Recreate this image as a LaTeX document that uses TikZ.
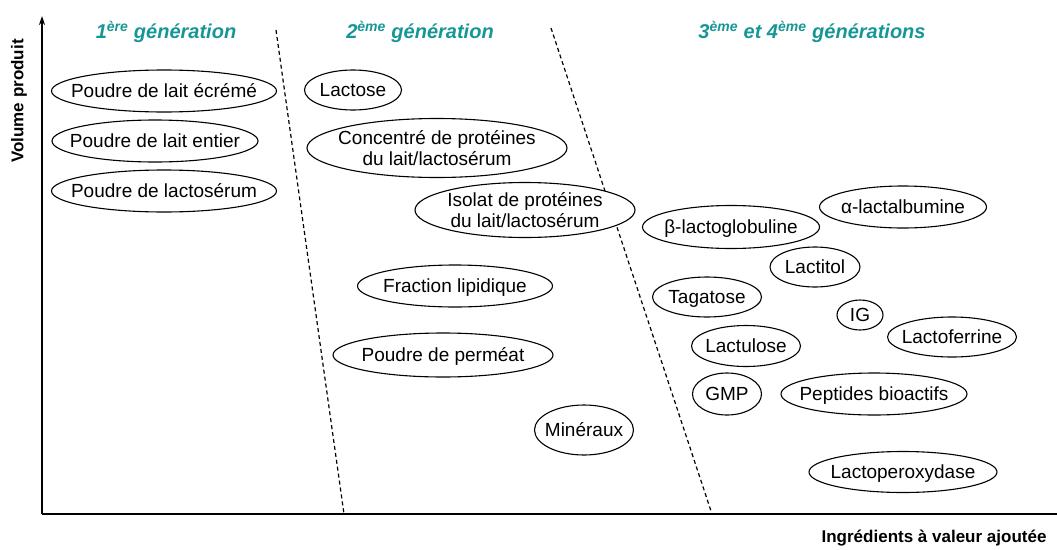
\documentclass[tikz,border=0pt]{standalone}
\usepackage{fontspec}
\setmainfont{Liberation Sans}
\usepackage{tikz}
\usetikzlibrary{arrows.meta,positioning}
\definecolor{gencol}{RGB}{22, 150, 150}
\tikzstyle{ingr} = [font=\fontsize{19}{21}\selectfont, align=center, inner sep=0pt, text height=13.6pt, text depth=0pt]
\tikzstyle{ingrtwo} = [font=\fontsize{19}{21}\selectfont, align=center, inner sep=0pt]
\tikzstyle{ring} = [draw, fill=white, line width=1.1pt]
\tikzstyle{gen} = [font=\fontsize{20}{24}\selectfont\bfseries\itshape, text=gencol]
\tikzstyle{axlabel} = [font=\fontsize{17}{20}\selectfont\bfseries]
\tikzstyle{bound} = [draw, line width=1.2pt, dash pattern=on 4pt off 3pt]
\tikzstyle{axis} = [draw, line width=1.8pt]

\begin{document}
\begin{tikzpicture}[x=1pt, y=-1pt]
\useasboundingbox (0,0) rectangle (1057,549);

% axes =============================
\coordinate (origin) at (42,514);
\coordinate (ytop) at (42,16);
\coordinate (xend) at (1057,514);
\path[axis, -{Stealth[length=9pt,width=6pt]}] (origin) -- (ytop);
\path[axis] (origin) -- (xend);
\node[axlabel, rotate=90] (ylab) at (19,101) {Volume produit};
\node[axlabel, anchor=east] (xlab) at (1050,538) {Ingrédients à valeur ajoutée};

% generations
\node[gen] (gen1) at (166,32) {1\textsuperscript{ère} génération};
\node[gen] (gen2) at (420,32) {2\textsuperscript{ème} génération};
\node[gen] (gen34) at (812,32) {3\textsuperscript{ème} et 4\textsuperscript{ème} générations};

% boundaries
\coordinate (d1top) at (276,30);
\coordinate (d1bot) at (344,514);
\coordinate (d2top) at (551,28);
\coordinate (d2bot) at (711,511);
\path[bound] (d1top) -- (d1bot);
\path[bound] (d2top) -- (d2bot);

% 1st generation
\draw[ring] (164,91) node[ingr] (skim) {Poudre de lait écrémé} ellipse (112.5pt and 21pt);
\draw[ring] (155,141) node[ingr] (whole) {Poudre de lait entier} ellipse (103pt and 21pt);
\draw[ring] (164,191) node[ingr] (whey) {Poudre de lactosérum} ellipse (112.5pt and 21pt);

% 2nd generation
\draw[ring] (353,90) node[ingr] (lactose) {Lactose} ellipse (48.5pt and 20pt);
\draw[ring] (437,148) node[ingrtwo] (wpc) {Concentré de protéines\\du lait/lactosérum} ellipse (130pt and 29.5pt);
\draw[ring] (525,210) node[ingrtwo] (wpi) {Isolat de protéines\\du lait/lactosérum} ellipse (110pt and 27.5pt);
\draw[ring] (455,286) node[ingr] (lipid) {Fraction lipidique} ellipse (97.5pt and 21pt);
\draw[ring] (443,355) node[ingr] (permeate) {Poudre de perméat} ellipse (110pt and 22pt);
\draw[ring] (584,430) node[ingr] (minerals) {Minéraux} ellipse (49.5pt and 25pt);

% 3rd and 4th generations
\draw[ring] (731,227) node[ingr] (blg) {β-lactoglobuline} ellipse (88.5pt and 21.5pt);
\draw[ring] (903,207) node[ingr] (ala) {α-lactalbumine} ellipse (83.5pt and 21pt);
\draw[ring] (815,267) node[ingr] (lactitol) {Lactitol} ellipse (45pt and 20pt);
\draw[ring] (707,297) node[ingr] (tagatose) {Tagatose} ellipse (54.5pt and 20pt);
\draw[ring] (860,315) node[ingr] (ig) {IG} ellipse (23pt and 15pt);
\draw[ring] (952,337) node[ingr] (lactoferrin) {Lactoferrine} ellipse (64.5pt and 20pt);
\draw[ring] (746,346) node[ingr] (lactulose) {Lactulose} ellipse (54.5pt and 20.5pt);
\draw[ring] (727,394) node[ingr] (gmp) {GMP} ellipse (34.5pt and 21pt);
\draw[ring] (874,394) node[ingr] (peptides) {Peptides bioactifs} ellipse (93pt and 21pt);
\draw[ring] (903,472) node[ingr] (lpo) {Lactoperoxydase} ellipse (94pt and 20.5pt);

\end{tikzpicture}
\end{document}
